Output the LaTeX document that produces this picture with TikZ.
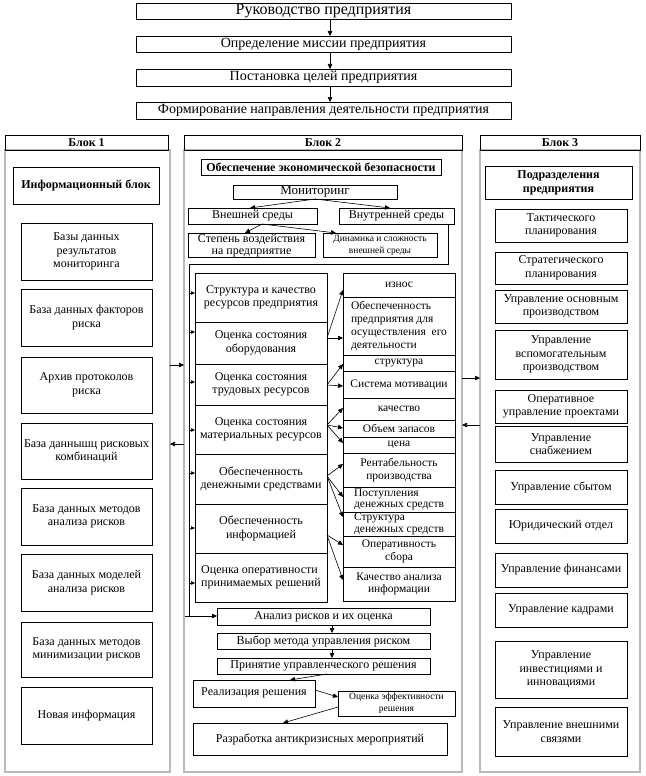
\documentclass[tikz,border=0pt]{standalone}
\usepackage{fontspec}
\setmainfont{Liberation Serif}
\usetikzlibrary{arrows.meta,calc}
\newcommand{\fs}[2]{\fontsize{#1}{#2}\selectfont}
\newcommand{\bx}[7]{\node[box,anchor=north west,minimum width={(#4-#2)*1pt},minimum height={(#5-#3)*1pt},#6] (#1) at (#2,#3) {#7};}
\begin{document}
\begin{tikzpicture}[x=1pt,y=-1pt,
  box/.style={draw,line width=0.7pt,inner sep=1pt,outer sep=0pt,align=center,font=\fs{12}{13.5}},
  frame/.style={draw=gray!55,line width=2.4pt},
  arr/.style={-{Triangle[length=5pt,width=4.5pt]},line width=0.6pt},
  sarr/.style={-{Triangle[length=4pt,width=3.5pt]},line width=0.5pt},
  f16/.style={font=\fs{16}{18}},
  f14/.style={font=\fs{14}{16}},
  hb/.style={font=\fs{12}{14}\bfseries},
  rc/.style={font=\fs{11.5}{12.7}},
  sm/.style={font=\fs{9.5}{12}}]
\fill[white] (0,0) rectangle (645,776);
\useasboundingbox (0,0) rectangle (645,776);
% top chain
\bx{t1}{136}{3}{511}{19}{f16}{Руководство предприятия}
\bx{t2}{136}{36}{511}{52}{f14}{Определение миссии предприятия}
\bx{t3}{136}{69}{511}{86}{f14}{Постановка целей предприятия}
\bx{t4}{136}{102}{511}{119}{f14}{Формирование направления деятельности предприятия}
\draw[arr] ([xshift=6.5pt]t1.south) -- ([xshift=6.5pt]t2.north);
\draw[arr] ([xshift=6.5pt]t2.south) -- ([xshift=6.5pt]t3.north);
\draw[arr] ([xshift=6.5pt]t3.south) -- ([xshift=6.5pt]t4.north);
% frames
\node[frame,anchor=north west,minimum width=165pt,minimum height=622pt,outer sep=0pt] (b1) at (5,150) {};
\node[frame,anchor=north west,minimum width=278pt,minimum height=622pt,outer sep=0pt] (b2) at (184,150) {};
\node[frame,anchor=north west,minimum width=160pt,minimum height=622pt,outer sep=0pt] (b3) at (480,150) {};
\bx{h1}{5}{135}{168}{150}{hb}{Блок 1}
\bx{h2}{184}{135}{462}{150}{hb}{Блок 2}
\bx{h3}{480}{135}{640}{150}{hb}{Блок 3}
% block 1
\bx{a0}{13}{167}{159}{204}{hb}{Информационный блок}
\bx{a1}{21}{223}{152}{280}{}{Базы данных\\результатов\\мониторинга}
\bx{a2}{21}{289}{152}{346}{}{База данных факторов\\риска}
\bx{a3}{21}{357}{152}{413}{}{Архив протоколов\\риска}
\bx{a4}{21}{423}{152}{479}{}{База даннышц рисковых\\комбинаций}
\bx{a5}{21}{488}{152}{545}{}{База данных методов\\анализа рисков}
\bx{a6}{21}{554}{152}{611}{}{База данных моделей\\анализа рисков}
\bx{a7}{21}{622}{152}{677}{}{База данных методов\\минимизации рисков}
\bx{a8}{21}{687}{152}{744}{}{Новая информация}
% block 2 top
\bx{s0}{201}{159}{441}{175}{hb}{Обеспечение экономической безопасности}
\bx{m}{233}{185}{397}{199}{font=\fs{13}{14}}{Мониторинг}
\bx{ve}{188}{208}{317}{224}{}{Внешней среды}
\bx{vi}{339}{208}{454}{224}{}{Внутренней среды}
\bx{st}{188}{233}{315}{257}{font=\fs{12}{12}}{Степень воздействия\\на предприятие}
\bx{dn}{323}{233}{437}{257}{sm}{Динамика и сложность\\внешней среды}
\draw[arr] (m.south) -- (ve.north -| 250,0);
\draw[arr] (m.south) -- (vi.north -| 390,0);
\draw[arr] (ve.south -| 262,0) -- (st.north -| 245,0);
\draw[arr] (ve.south -| 262,0) -- (dn.north -| 336,0);
% bracket line
\coordinate (k1) at (448,224);
\coordinate (k2) at (448,264);
\coordinate (k3) at (189,264);
\coordinate (k4) at (189,616);
\draw[line width=0.6pt] (k1) -- (k2) -- (k3) -- (k4);
% left column
\bx{L1}{195}{273}{327}{322}{}{Структура и качество\\ресурсов предприятия}
\bx{L2}{195}{322}{327}{364}{}{Оценка состояния\\оборудования}
\bx{L3}{195}{364}{327}{405}{}{Оценка состояния\\трудовых ресурсов}
\bx{L4}{195}{405}{327}{454}{}{Оценка состояния\\материальных ресурсов}
\bx{L5}{195}{454}{327}{504}{}{Обеспеченность\\денежными средствами}
\bx{L6}{195}{504}{327}{553}{}{Обеспеченность\\информацией}
\bx{L7}{195}{553}{327}{602}{align=left}{Оценка оперативности\\принимаемых решений}
\draw[sarr] (189,293) -- (L1.west |- 0,293);
\draw[sarr] (189,332) -- (L2.west |- 0,332);
\draw[sarr] (189,382) -- (L3.west |- 0,382);
\draw[sarr] (189,430) -- (L4.west |- 0,430);
\draw[sarr] (189,473) -- (L5.west |- 0,473);
\draw[sarr] (189,528) -- (L6.west |- 0,528);
\draw[sarr] (189,583) -- (L7.west |- 0,583);
% right column
\bx{R1}{343}{273}{455}{297}{rc}{износ}
\bx{R2}{343}{297}{455}{355}{rc,align=left}{Обеспеченность\\предприятия для\\осуществления~ его\\деятельности}
\bx{R3}{343}{355}{455}{371}{rc}{структура}
\bx{R4}{343}{371}{455}{398}{rc}{Система мотивации}
\bx{R5}{343}{398}{455}{420}{rc}{качество}
\bx{R6}{343}{420}{455}{437}{rc}{Объем запасов}
\bx{R7}{343}{437}{455}{453}{rc}{цена}
\bx{R8}{343}{453}{455}{487}{rc}{Рентабельность\\производства}
\bx{R9}{343}{487}{455}{512}{rc,align=left,inner sep=0pt,font=\fs{11.5}{11.5}}{Поступления\\денежных средств}
\bx{R10}{343}{512}{455}{536}{rc,align=left,inner sep=0pt,font=\fs{11.5}{11.5}}{Структура\\денежных средств}
\bx{R11}{343}{536}{455}{567}{rc}{Оперативность\\сбора}
\bx{R12}{343}{567}{455}{601}{rc}{Качество анализа\\информации}
\draw[arr] (L2.east |- 0,338) -- (R1.west |- 0,290);
\draw[arr] (L2.east |- 0,338) -- (R2.west |- 0,338);
\draw[arr] (L3.east |- 0,385) -- (R3.west |- 0,364);
\draw[arr] (L3.east |- 0,385) -- (R4.west |- 0,386);
\draw[arr] (L4.east |- 0,425) -- (R5.west |- 0,408);
\draw[arr] (L4.east |- 0,425) -- (R6.west |- 0,428);
\draw[arr] (L4.east |- 0,425) -- (R7.west |- 0,443);
\draw[arr] (L5.east |- 0,476) -- (R8.west |- 0,464);
\draw[arr] (L5.east |- 0,476) -- (R9.west |- 0,497);
\draw[arr] (L5.east |- 0,476) -- (R10.west |- 0,517);
\draw[arr] (L6.east |- 0,535) -- (R11.west |- 0,545);
\draw[arr] (L6.east |- 0,535) -- (R12.west |- 0,580);
% bottom chain
\bx{B1}{217}{608}{430}{625}{}{Анализ рисков и их оценка}
\bx{B2}{217}{633}{430}{649}{}{Выбор метода управления риском}
\bx{B3}{217}{658}{430}{674}{}{Принятие управленческого решения}
\bx{B4}{193}{680}{315}{707}{anchor=north west}{\raisebox{3pt}{Реализация решения}}
\bx{B5}{338}{691}{455}{716}{sm}{Оценка эффективности\\решения}
\bx{B6}{193}{723}{447}{755}{}{Разработка антикризисных мероприятий}
\coordinate (k5) at (185,616);
\draw[arr] (k5) -- (B1.west |- 0,616);
\draw[arr] (B1.south -| 332,0) -- (B2.north -| 332,0);
\draw[arr] (B2.south -| 332,0) -- (B3.north -| 332,0);
\draw[arr] (B3.south -| 327,0) -- (B4.north -| 290,0);
\draw[arr] (B4.east |- 0,690) -- (B5.west |- 0,697);
\draw[arr] (B5.west |- 0,707) -- (B6.north -| 283,0);
% block 3
\bx{c0}{485}{166}{632}{199}{hb}{Подразделения\\предприятия}
\bx{c1}{495}{209}{627}{242}{}{Тактического\\планирования}
\bx{c2}{495}{252}{627}{284}{}{Стратегического\\планирования}
\bx{c3}{495}{290}{627}{323}{}{Управление основным\\производством}
\bx{c4}{495}{330}{627}{379}{}{Управление\\вспомогательным\\производством}
\bx{c5}{495}{390}{627}{423}{}{Оперативное\\управление проектами}
\bx{c6}{495}{426}{627}{462}{}{Управление\\снабжением}
\bx{c7}{495}{470}{627}{504}{}{Управление сбытом}
\bx{c8}{495}{509}{627}{543}{}{Юридический отдел}
\bx{c9}{495}{553}{627}{587}{}{Управление финансами}
\bx{c10}{495}{593}{627}{627}{}{Управление кадрами}
\bx{c11}{495}{641}{627}{698}{}{Управление\\инвестициями и\\инновациями}
\bx{c12}{495}{707}{627}{756}{}{Управление внешними\\связями}
% inter-block arrows
\draw[arr] (b1.east |- 0,365) -- (b2.west |- 0,365);
\draw[arr] (b2.west |- 0,444) -- (b1.east |- 0,444);
\draw[arr] (b2.east |- 0,378) -- (b3.west |- 0,378);
\draw[arr] (b3.west |- 0,425) -- (b2.east |- 0,425);
\end{tikzpicture}
\end{document}
